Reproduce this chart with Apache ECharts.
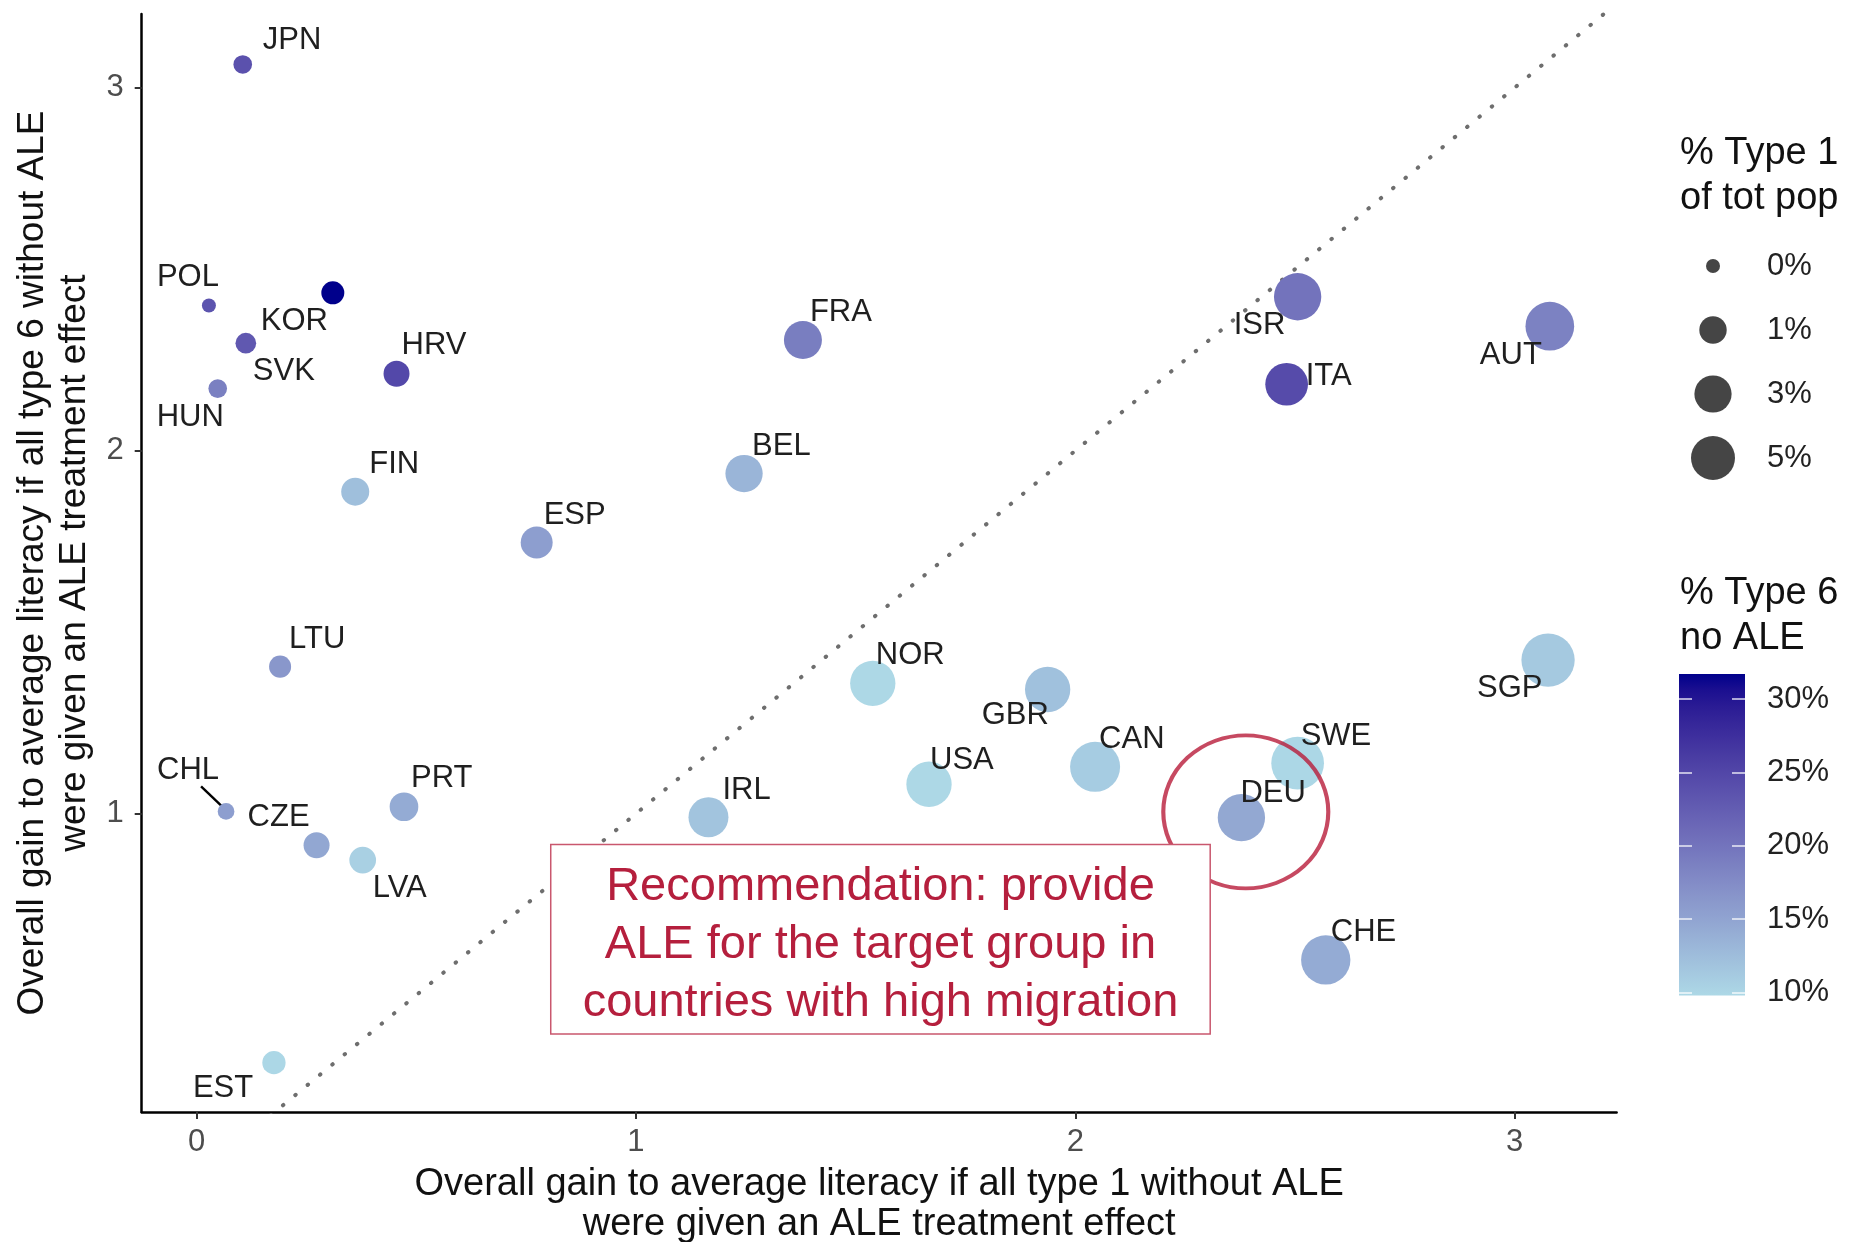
<!DOCTYPE html>
<html><head><meta charset="utf-8">
<script src="https://cdn.jsdelivr.net/npm/echarts@6/dist/echarts.min.js"></script>
<style>html,body{margin:0;padding:0;background:#fff}#c{width:1857px;height:1242px}</style>
</head><body><div id="c"></div>
<script>
// ---------------- data ----------------
const countries = ['JPN','POL','KOR','SVK','HUN','HRV','FIN','ESP','LTU','CHL','CZE','PRT','LVA','EST','FRA','BEL','NOR','IRL','USA','GBR','CAN','DEU','SWE','CHE','ISR','ITA','AUT','SGP'];
const gainType1 = [0.105,0.028,0.310,0.112,0.048,0.455,0.361,0.774,0.190,0.067,0.273,0.472,0.378,0.176,1.380,1.246,1.539,1.165,1.667,1.937,2.045,2.378,2.506,2.570,2.506,2.481,3.080,3.076];
const gainType6 = [3.064,2.400,2.435,2.296,2.171,2.212,1.887,1.747,1.405,1.006,0.913,1.019,0.872,0.314,2.305,1.937,1.359,0.990,1.081,1.342,1.129,0.989,1.139,0.597,2.424,2.183,2.343,1.423];
const pctType1 = [0.12,0.00,0.45,0.25,0.12,0.80,1.09,1.80,0.36,0.04,0.80,1.20,0.90,0.48,3.21,3.02,5.46,3.76,5.46,5.46,7.22,6.18,8.34,6.94,6.18,4.59,6.71,8.60];
const pctType6NoALE = [23.8,23.5,31.7,23.0,18.8,24.8,12.3,15.6,16.4,15.6,14.7,14.3,10.6,9.9,19.0,13.3,9.8,11.8,9.8,12.1,11.0,14.6,9.9,14.3,20.1,24.5,18.6,11.3];
const xTicks = [0,1,2,3];
const yTicks = [1,2,3];
const sizeBreaks = [0,1,3,5];
const sizeBreakLabels = ['0%','1%','3%','5%'];
const colorBreaks = [10,15,20,25,30];
const diagonal = [[0,0],[3.4,3.4]];
const highlight = [[2.388,1.005]];
const noteBoxX = [0.806,2.307];
const noteBoxY = [0.393,0.915];
const noteText = ['Recommendation: provide','ALE for the target group in','countries with high migration'];
const xTitle = 'Overall gain to average literacy if all type 1 without ALE\nwere given an ALE treatment effect';
const yTitle = 'Overall gain to average literacy if all type 6 without ALE\nwere given an ALE treatment effect';

// ---------------- layout / style ----------------
const labelOffsets = {
  JPN:[20,-24], POL:[-52,-28], KOR:[-72,29], SVK:[7,28], HUN:[-61,29], HRV:[5,-28],
  FIN:[14,-27], ESP:[7,-27], LTU:[9,-27], CHL:[-69,-41], CZE:[-69,-28], PRT:[7,-28],
  LVA:[10,28], EST:[-81,26], FRA:[7,-27], BEL:[8,-27], NOR:[3,-28], IRL:[14,-27],
  USA:[1,-24], GBR:[-66,26], CAN:[4,-27], DEU:[-1,-24], SWE:[3,-27], CHE:[5,-27],
  ISR:[-64,29], ITA:[19,-8], AUT:[-70,29], SGP:[-71,28]
};
const leaderFor = 'CHL';
const leaderOffsets = [[-25,-25],[-3,-4]];
const FONT = '"Liberation Sans", Arial, sans-serif';
const sizeFn = v => 14 + 13.4 * Math.sqrt(Math.max(v, 0));

// Lab interpolation between lightblue and darkblue (like ggplot scale_colour_gradient)
function lin(c){c/=255;return c<=0.04045?c/12.92:Math.pow((c+0.055)/1.055,2.4);}
function unlin(c){c=c<=0.0031308?12.92*c:1.055*Math.pow(c,1/2.4)-0.055;return Math.round(Math.max(0,Math.min(1,c))*255);}
function hexToLab(h){
  const r=lin(parseInt(h.substr(1,2),16)),g=lin(parseInt(h.substr(3,2),16)),b=lin(parseInt(h.substr(5,2),16));
  const X=(0.4124*r+0.3576*g+0.1805*b)/0.95047,Y=(0.2126*r+0.7152*g+0.0722*b),Z=(0.0193*r+0.1192*g+0.9505*b)/1.08883;
  const f=t=>t>0.008856?Math.cbrt(t):7.787*t+16/116;
  return [116*f(Y)-16,500*(f(X)-f(Y)),200*(f(Y)-f(Z))];
}
function labToHex(L,a,b){
  const fy=(L+16)/116,fx=fy+a/500,fz=fy-b/200;
  const inv=t=>t*t*t>0.008856?t*t*t:(t-16/116)/7.787;
  const X=inv(fx)*0.95047,Y=inv(fy),Z=inv(fz)*1.08883;
  const r=3.2406*X-1.5372*Y-0.4986*Z,g=-0.9689*X+1.8758*Y+0.0415*Z,bb=0.0557*X-0.2040*Y+1.0570*Z;
  return '#'+[unlin(r),unlin(g),unlin(bb)].map(v=>v.toString(16).padStart(2,'0')).join('');
}
const LOW=hexToLab('#ADD8E6'), HIGH=hexToLab('#00008B');
const stops=[];
for(let i=0;i<=20;i++){const t=i/20;stops.push(labToHex(LOW[0]+(HIGH[0]-LOW[0])*t,LOW[1]+(HIGH[1]-LOW[1])*t,LOW[2]+(HIGH[2]-LOW[2])*t));}
const cbMin=Math.min(...pctType6NoALE), cbMax=Math.max(...pctType6NoALE);

const pointData = countries.map((c,i)=>({name:c,value:[gainType1[i],gainType6[i],pctType1[i],pctType6NoALE[i]]}));
const li = countries.indexOf(leaderFor);

const chart = echarts.init(document.getElementById('c'), null, {renderer:'canvas'});
chart.setOption({
  animation:false,
  backgroundColor:'#fff',
  textStyle:{fontFamily:FONT},
  title:[
    {text:'% Type 1\nof tot pop',left:1675,top:126,textStyle:{fontSize:38,lineHeight:45,fontWeight:'normal',color:'#111',fontFamily:FONT}},
    {text:'% Type 6\nno ALE',left:1675,top:566,textStyle:{fontSize:38,lineHeight:45,fontWeight:'normal',color:'#111',fontFamily:FONT}}
  ],
  grid:[
    {left:141.7,top:14,right:240.4,bottom:130,containLabel:false,outerBoundsMode:'none'},
    {left:1680,top:234,width:66,height:256,containLabel:false,outerBoundsMode:'none'},
    {left:1679,top:674,width:66,height:321.5,containLabel:false,outerBoundsMode:'none'}
  ],
  visualMap:[{type:'continuous',show:false,seriesIndex:0,dimension:3,min:cbMin,max:cbMax,inRange:{color:stops}}],
  xAxis:[
    {gridIndex:0,type:'value',min:-0.125,max:3.232,
     axisLine:{show:true,onZero:false,lineStyle:{color:'#000',width:2.5}},
     axisTick:{show:true,length:7,customValues:xTicks,lineStyle:{color:'#333',width:2}},
     axisLabel:{customValues:xTicks,fontSize:31,color:'#4d4d4d',margin:15,fontFamily:FONT},
     splitLine:{show:false},
     name:xTitle,nameLocation:'middle',nameGap:53,nameTextStyle:{fontSize:38,lineHeight:40,color:'#111',fontFamily:FONT}},
    {gridIndex:1,type:'value',min:-1,max:1,show:false},
    {gridIndex:2,type:'category',data:['bar'],show:false}
  ],
  yAxis:[
    {gridIndex:0,type:'value',min:0.178,max:3.203,
     axisLine:{show:true,onZero:false,lineStyle:{color:'#000',width:2.5}},
     axisTick:{show:true,length:7,customValues:yTicks,lineStyle:{color:'#333',width:2}},
     axisLabel:{customValues:yTicks,fontSize:31,color:'#4d4d4d',margin:18,fontFamily:FONT},
     splitLine:{show:false},
     name:yTitle,nameLocation:'middle',nameGap:46,nameTextStyle:{fontSize:37,lineHeight:42,color:'#111',fontFamily:FONT}},
    {gridIndex:1,type:'category',inverse:true,data:sizeBreakLabels,position:'right',
     axisLine:{show:false},axisTick:{show:false},splitLine:{show:false},
     axisLabel:{fontSize:31,color:'#222',margin:21,fontFamily:FONT}},
    {gridIndex:2,type:'value',min:cbMin,max:cbMax,position:'right',z:10,
     axisLine:{show:false},splitLine:{show:false},
     axisTick:{show:true,inside:true,length:13,customValues:colorBreaks,lineStyle:{color:'rgba(255,255,255,0.85)',width:1.5}},
     axisLabel:{customValues:colorBreaks,formatter:'{value}%',fontSize:31,color:'#222',margin:22,fontFamily:FONT}},
    {gridIndex:2,type:'value',min:cbMin,max:cbMax,position:'left',z:10,
     axisLine:{show:false},splitLine:{show:false},axisLabel:{show:false},
     axisTick:{show:true,inside:true,length:13,customValues:colorBreaks,lineStyle:{color:'rgba(255,255,255,0.85)',width:1.5}}}
  ],
  series:[
    {type:'scatter',xAxisIndex:0,yAxisIndex:0,z:2,data:pointData,
     symbolSize:v=>sizeFn(v[2]),
     itemStyle:{opacity:1},
     label:{show:true,position:'inside',formatter:'{b}',fontSize:31,color:'#1f1f1f',fontFamily:FONT},
     labelLayout:p=>{const o=labelOffsets[countries[p.dataIndex]];return {dx:o[0],dy:o[1],align:'left',verticalAlign:'middle'};},
     emphasis:{disabled:true}},
    {type:'line',xAxisIndex:0,yAxisIndex:0,z:1,data:diagonal,symbol:'none',clip:true,silent:true,
     lineStyle:{color:'#6e6e6e',width:4,type:[0.5,15.5],cap:'round'}},
    {type:'scatter',xAxisIndex:0,yAxisIndex:0,z:3,data:highlight,symbolSize:[165,153],silent:true,
     itemStyle:{color:'rgba(0,0,0,0)',borderColor:'#b81c3a',borderWidth:4}},
    {type:'line',xAxisIndex:0,yAxisIndex:0,z:10,data:[],silent:true,
     markArea:{silent:true,z:10,
       itemStyle:{color:'#fff',borderColor:'#c9576e',borderWidth:1.5},
       label:{show:true,position:'inside',offset:[0,6],formatter:noteText.join('\n'),fontSize:47,lineHeight:58,color:'#b51f3d',align:'center',fontFamily:FONT},
       data:[[{coord:[noteBoxX[0],noteBoxY[1]]},{coord:[noteBoxX[1],noteBoxY[0]]}]]}},
    {type:'custom',xAxisIndex:0,yAxisIndex:0,z:2,silent:true,
     data:[[gainType1[li],gainType6[li]]],
     renderItem:(params,api)=>{const p=api.coord([api.value(0),api.value(1)]);
       return {type:'line',shape:{x1:p[0]+leaderOffsets[0][0],y1:p[1]+leaderOffsets[0][1],x2:p[0]+leaderOffsets[1][0],y2:p[1]+leaderOffsets[1][1]},
               style:{stroke:'#000',lineWidth:2.4}};}},
    {type:'scatter',xAxisIndex:1,yAxisIndex:1,silent:true,
     data:sizeBreaks.map((v,i)=>[0,i,v]),symbolSize:v=>sizeFn(v[2]),itemStyle:{color:'#161616'}},
    {type:'bar',xAxisIndex:2,yAxisIndex:2,stack:'cb',barWidth:'100%',silent:true,data:[cbMin],itemStyle:{color:'rgba(0,0,0,0)'}},
    {type:'bar',xAxisIndex:2,yAxisIndex:2,stack:'cb',barWidth:'100%',silent:true,data:[cbMax-cbMin],
     itemStyle:{color:new echarts.graphic.LinearGradient(0,1,0,0,stops.map((c,i)=>({offset:i/(stops.length-1),color:c})))}}
  ]
});
</script>
</body></html>
